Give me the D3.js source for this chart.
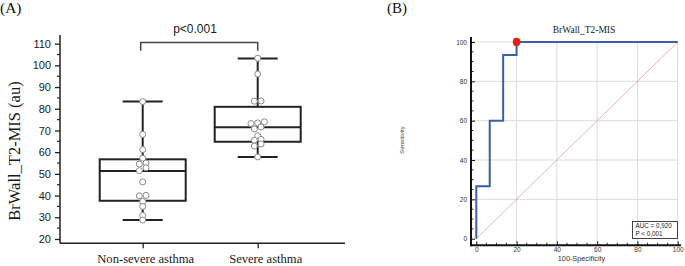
<!DOCTYPE html>
<html><head><meta charset="utf-8">
<script src="https://cdn.jsdelivr.net/npm/d3@7"></script>
<style>html,body{margin:0;padding:0;background:#fff;}svg{display:block;}</style>
</head><body>
<svg id="c" width="685" height="266"></svg>
<script>
// ---------- DATA ----------
const categories = ["Non-severe asthma", "Severe asthma"];
const nonSevere = [83.3, 68.2, 61.2, 57.2, 55.0, 54.5, 52.8, 51.5, 46.3, 40.1, 39.9, 37.3, 35.0, 30.8, 28.7];
const severe = [103.3, 96.0, 83.6, 83.5, 74.0, 73.5, 73.2, 71.6, 70.7, 67.6, 65.9, 65.5, 63.8, 62.8, 57.8];
const boxMin = [28.7, 57.8];
const boxQ1 = [37.6, 64.8];
const boxMedian = [51.3, 71.5];
const boxQ3 = [56.7, 80.9];
const boxMax = [83.3, 103.2];
const yTicksA = [20, 30, 40, 50, 60, 70, 80, 90, 100, 110];
const pLabel = "p<0.001";

const rocFPR = [0, 0, 6.67, 6.67, 13.33, 13.33, 20, 20, 100];
const rocSens = [0, 26.67, 26.67, 60, 60, 93.33, 93.33, 100, 100];
const cutFPR = [20];
const cutSens = [100];
const rocTicks = [0, 20, 40, 60, 80, 100];
const aucLines = ["AUC = 0,920", "P < 0,001"];

const svg = d3.select("#c");
const ink = "#222";

// ---------- PANEL A ----------
const gA = svg.append("g");
gA.append("text").attr("x", 0).attr("y", 13).attr("font-family", "Liberation Serif, serif")
  .attr("font-size", 15.5).attr("fill", "#111").text("(A)");

const xA = d3.scalePoint().domain(categories).range([142.7, 257.7]);
const yA = d3.scaleLinear().domain([18, 114]).range([243.3, 35]);

gA.append("line").attr("x1", 60).attr("x2", 60).attr("y1", 35).attr("y2", 243.3)
  .attr("stroke", ink).attr("stroke-width", 1.5);
gA.append("line").attr("x1", 60).attr("x2", 345).attr("y1", 243.3).attr("y2", 243.3)
  .attr("stroke", ink).attr("stroke-width", 1.5);

const yAxisA = d3.axisLeft(yA).tickValues(yTicksA).tickSize(5).tickPadding(4);
const gy = gA.append("g").attr("transform", "translate(60,0)").call(yAxisA);
gy.select(".domain").remove();
gy.selectAll(".tick line").attr("stroke", ink).attr("stroke-width", 1.3);
gy.selectAll(".tick text").attr("font-family", "Liberation Sans, Arial, sans-serif")
  .attr("font-size", 11).attr("fill", "#1a1a1a");
const minorA = d3.range(25, 115, 10);
gA.append("g").selectAll("line").data(minorA).join("line")
  .attr("x1", 57).attr("x2", 60).attr("y1", d => yA(d)).attr("y2", d => yA(d))
  .attr("stroke", ink).attr("stroke-width", 1.2);

const xAxisA = d3.axisBottom(xA).tickSize(5).tickFormat("");
const gx = gA.append("g").attr("transform", "translate(0,243.3)").call(xAxisA);
gx.select(".domain").remove();
gx.selectAll(".tick line").attr("stroke", ink).attr("stroke-width", 1.3);
gA.append("g").selectAll("text").data(categories).join("text")
  .attr("x", d => xA(d) + (d === categories[0] ? 3 : 8)).attr("y", 263)
  .attr("text-anchor", "middle").attr("font-family", "Liberation Serif, serif")
  .attr("font-size", 12.6).attr("fill", "#1a1a1a")
  .text(d => d);

gA.append("text").attr("transform", "translate(20,151) rotate(-90)")
  .attr("text-anchor", "middle").attr("font-family", "Liberation Serif, serif")
  .attr("font-size", 16.5).attr("fill", "#1a1a1a").text("BrWall_T2-MIS (au)");

const boxW = 86, capW = 40;
categories.forEach((c, i) => {
  const cx = xA(c);
  const g = gA.append("g").attr("stroke", ink).attr("stroke-width", 2).attr("fill", "none");
  g.append("line").attr("x1", cx).attr("x2", cx).attr("y1", yA(boxMax[i])).attr("y2", yA(boxQ3[i]));
  g.append("line").attr("x1", cx).attr("x2", cx).attr("y1", yA(boxQ1[i])).attr("y2", yA(boxMin[i]));
  g.append("line").attr("x1", cx - capW / 2).attr("x2", cx + capW / 2).attr("y1", yA(boxMax[i])).attr("y2", yA(boxMax[i]));
  g.append("line").attr("x1", cx - capW / 2).attr("x2", cx + capW / 2).attr("y1", yA(boxMin[i])).attr("y2", yA(boxMin[i]));
  g.append("rect").attr("x", cx - boxW / 2).attr("width", boxW)
    .attr("y", yA(boxQ3[i])).attr("height", yA(boxQ1[i]) - yA(boxQ3[i]));
  g.append("line").attr("x1", cx - boxW / 2).attr("x2", cx + boxW / 2).attr("y1", yA(boxMedian[i])).attr("y2", yA(boxMedian[i]));
});

function swarm(vals, thr, spacing) {
  const s = vals.slice().sort((a, b) => b - a);
  const groups = [];
  s.forEach(v => {
    const g = groups[groups.length - 1];
    if (g && g[g.length - 1] - v < thr) g.push(v); else groups.push([v]);
  });
  const out = [];
  groups.forEach(g => {
    const asc = g.slice().sort((a, b) => a - b);
    asc.forEach((v, i) => out.push({ v, dx: (i - (asc.length - 1) / 2) * spacing }));
  });
  return out;
}
[nonSevere, severe].forEach((vals, i) => {
  const cx = xA(categories[i]);
  gA.append("g").selectAll("circle").data(swarm(vals, 1.5, 6.7)).join("circle")
    .attr("cx", d => cx + d.dx).attr("cy", d => yA(d.v)).attr("r", 3)
    .attr("fill", "#fff").attr("stroke", "#8a8a8a").attr("stroke-width", 1);
});

const bY = 42.5, bLeg = 50.7;
gA.append("path")
  .attr("d", `M${xA(categories[0]) - 2},${bLeg}V${bY}H${xA(categories[1])}V${bLeg}`)
  .attr("fill", "none").attr("stroke", "#444").attr("stroke-width", 1.5);
gA.append("text").attr("x", 195).attr("y", 33.3).attr("text-anchor", "middle")
  .attr("font-family", "Liberation Sans, Arial, sans-serif").attr("font-size", 12)
  .attr("fill", "#1a1a1a").text(pLabel);

// ---------- PANEL B ----------
const gB = svg.append("g");
gB.append("text").attr("x", 387).attr("y", 13.3).attr("font-family", "Liberation Serif, serif")
  .attr("font-size", 15).attr("fill", "#111").text("(B)");

const xB = d3.scaleLinear().domain([0, 100]).range([476.3, 677.7]);
const yB = d3.scaleLinear().domain([0, 100]).range([238.7, 42]);

const gridVals = rocTicks.filter(d => d > 0);
gB.append("g").selectAll("line").data(gridVals).join("line")
  .attr("x1", d => xB(d)).attr("x2", d => xB(d)).attr("y1", yB(100)).attr("y2", 245)
  .attr("stroke", "#dcdcdc").attr("stroke-width", 1);
gB.append("g").selectAll("line").data(gridVals).join("line")
  .attr("x1", 471).attr("x2", xB(100)).attr("y1", d => yB(d)).attr("y2", d => yB(d))
  .attr("stroke", "#dcdcdc").attr("stroke-width", 1);

const axX = 471, axY = 245.3;
const yAxisB = d3.axisLeft(yB).tickValues(rocTicks).tickSize(-4).tickPadding(4);
const gyB = gB.append("g").attr("transform", `translate(${axX},0)`).call(yAxisB);
gyB.select(".domain").remove();
gyB.selectAll(".tick line").attr("stroke", "#111").attr("stroke-width", 1);
gyB.selectAll(".tick text").attr("font-family", "Liberation Sans, Arial, sans-serif")
  .attr("font-size", 6.5).attr("fill", "#333");
const xAxisB = d3.axisBottom(xB).tickValues(rocTicks).tickSize(-4).tickPadding(2.3);
const gxB = gB.append("g").attr("transform", `translate(0,${axY})`).call(xAxisB);
gxB.select(".domain").remove();
gxB.selectAll(".tick line").attr("stroke", "#111").attr("stroke-width", 1);
gxB.selectAll(".tick text").attr("font-family", "Liberation Sans, Arial, sans-serif")
  .attr("font-size", 6.5).attr("fill", "#333");
const minorB = d3.range(5, 100, 5).filter(d => d % 20 !== 0);
gB.append("g").selectAll("line").data(minorB).join("line")
  .attr("x1", axX).attr("x2", axX + 2.5).attr("y1", d => yB(d)).attr("y2", d => yB(d))
  .attr("stroke", "#111").attr("stroke-width", 0.9);
gB.append("g").selectAll("line").data(minorB).join("line")
  .attr("x1", d => xB(d)).attr("x2", d => xB(d)).attr("y1", axY).attr("y2", axY - 2.5)
  .attr("stroke", "#111").attr("stroke-width", 0.9);
gB.append("line").attr("x1", axX).attr("x2", axX).attr("y1", 37).attr("y2", axY + 1)
  .attr("stroke", "#111").attr("stroke-width", 2);
gB.append("line").attr("x1", axX - 1).attr("x2", 681).attr("y1", axY).attr("y2", axY)
  .attr("stroke", "#111").attr("stroke-width", 2);

gB.append("line").attr("x1", xB(0)).attr("y1", yB(0)).attr("x2", xB(100)).attr("y2", yB(100))
  .attr("stroke", "#e4a29c").attr("stroke-width", 0.8);

const rocPts = rocFPR.map((f, i) => [xB(f), yB(rocSens[i])]);
gB.append("path").attr("d", d3.line()(rocPts)).attr("fill", "none")
  .attr("stroke", "#3a5fa5").attr("stroke-width", 2);
gB.append("g").selectAll("ellipse").data(cutFPR).join("ellipse")
  .attr("cx", d => xB(d)).attr("cy", (d, i) => yB(cutSens[i])).attr("rx", 3.8).attr("ry", 4.2)
  .attr("fill", "#ee1c14");

gB.append("text").attr("x", 584).attr("y", 32.7).attr("text-anchor", "middle")
  .attr("font-family", "Liberation Serif, serif").attr("font-size", 9.5).attr("fill", "#222")
  .text("BrWall_T2-MIS");
gB.append("text").attr("x", 581.5).attr("y", 260.5).attr("text-anchor", "middle")
  .attr("font-family", "Liberation Sans, Arial, sans-serif").attr("font-size", 7.3).attr("fill", "#333")
  .text("100-Specificity");
gB.append("text").attr("transform", "translate(403.5,140) rotate(-90)").attr("text-anchor", "middle")
  .attr("font-family", "Liberation Sans, Arial, sans-serif").attr("font-size", 6.2).attr("fill", "#333")
  .text("Sensitivity");

gB.append("rect").attr("x", 632.5).attr("y", 221.5).attr("width", 45).attr("height", 17)
  .attr("fill", "#fff").attr("stroke", "#444").attr("stroke-width", 1);
gB.append("g").selectAll("text").data(aucLines).join("text")
  .attr("x", 635.5).attr("y", (d, i) => 228.3 + i * 7.3)
  .attr("font-family", "Liberation Sans, Arial, sans-serif").attr("font-size", 6.3).attr("fill", "#222")
  .text(d => d);
</script>
</body></html>
